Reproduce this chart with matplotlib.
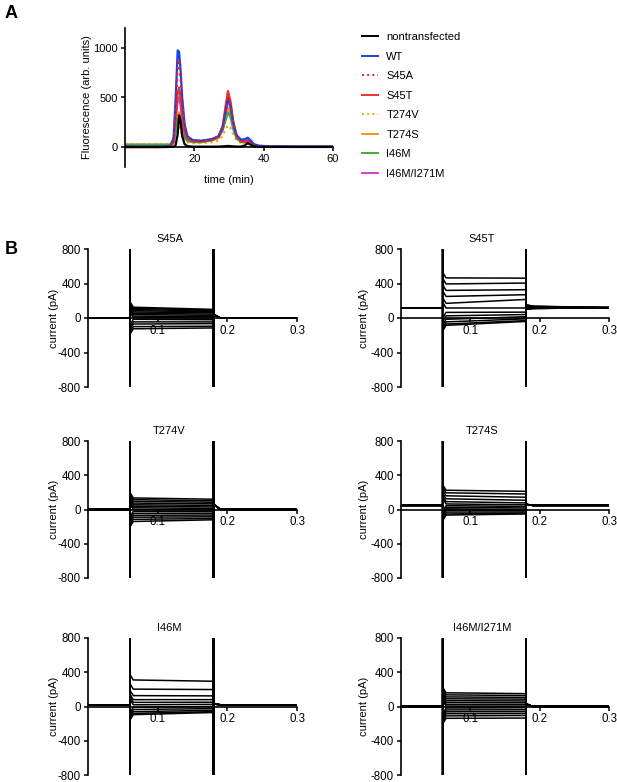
import matplotlib
matplotlib.use("Agg")
import matplotlib.pyplot as plt
from matplotlib.lines import Line2D
import numpy as np

plt.rcParams['font.family'] = ['Liberation Sans', 'DejaVu Sans']
plt.rcParams['axes.unicode_minus'] = False

# ---- panel A: FSEC traces ----
t_min = [0, 10, 13.0, 14.0, 14.6, 15.2, 15.6, 16.0, 16.5, 17.2, 18.0, 19.5, 22, 25, 27,
         28.2, 29.0, 29.7, 30.4, 31.2, 32.2, 33.5, 34.6, 35.4, 36.2, 37.2, 38.5, 42, 50, 60]

nontransfected = [2, 2, 2, 3, 20, 130, 320, 270, 110, 30, 10, 5, 5, 5, 6,
                  8, 10, 12, 10, 8, 6, 6, 18, 40, 25, 6, 3, 2, 2, 2]
wt = [5, 5, 10, 90, 480, 975, 960, 790, 500, 230, 110, 72, 65, 80, 110,
      200, 360, 485, 420, 250, 120, 75, 80, 95, 70, 30, 15, 8, 5, 5]
s45a = [0, 0, 3, 60, 380, 820, 880, 700, 440, 200, 95, 65, 60, 75, 105,
        200, 370, 520, 440, 250, 110, 62, 55, 60, 45, 20, 10, 5, 3, 3]
s45t = [0, 0, 3, 45, 270, 540, 600, 500, 320, 160, 85, 62, 58, 75, 110,
        220, 410, 565, 470, 260, 110, 62, 55, 60, 45, 20, 10, 5, 3, 3]
t274v = [28, 28, 28, 45, 120, 185, 200, 170, 120, 70, 48, 40, 40, 50, 65,
         115, 180, 220, 195, 130, 70, 42, 38, 45, 35, 18, 10, 5, 3, 3]
t274s = [25, 25, 25, 50, 170, 315, 350, 300, 200, 105, 65, 50, 50, 65, 92,
         175, 300, 400, 340, 205, 95, 52, 48, 55, 40, 20, 10, 5, 3, 3]
i46m = [25, 25, 25, 48, 150, 270, 300, 255, 175, 95, 63, 52, 52, 70, 102,
        175, 270, 350, 305, 185, 85, 52, 48, 55, 40, 20, 10, 5, 3, 3]
i46m_i271m = [5, 5, 7, 55, 280, 470, 500, 430, 280, 140, 80, 62, 60, 78, 105,
              195, 345, 470, 405, 235, 110, 64, 62, 75, 55, 25, 12, 6, 4, 4]

fsec_names = ['nontransfected', 'WT', 'S45A', 'S45T', 'T274V', 'T274S', 'I46M', 'I46M/I271M']
fsec_data = [nontransfected, wt, s45a, s45t, t274v, t274s, i46m, i46m_i271m]
fsec_colors = ['black', '#1f3fe0', '#e3221c', '#e8342a', '#f5a623', '#f39318', '#33b233', '#d43cd8']
fsec_styles = ['-', '-', ':', '-', ':', '-', '-', '-']
draw_order = [4, 5, 6, 7, 3, 1, 2, 0]

# ---- panel B: current traces (pA) ----
panel_names = ['S45A', 'S45T', 'T274V', 'T274S', 'I46M', 'I46M/I271M']
holding = [0, 115, 0, 48, 20, 0]
tail_end = [0, 120, 0, 48, 20, 0]
pulse_start = [
    [125, 112, 98, 85, 70, 55, 40, 22, 5, -15, -45, -70, -100, -125],
    [465, 395, 320, 250, 170, 116, 65, 25, -15, -45, -70, -85],
    [135, 115, 95, 75, 55, 38, 20, 0, -22, -45, -68, -90, -115, -140],
    [225, 195, 160, 125, 92, 65, 45, 25, 8, -10, -30, -52, -65],
    [310, 203, 127, 80, 48, 20, -10, -35, -60, -80, -95],
    [160, 136, 112, 90, 68, 47, 25, 5, -18, -40, -62, -85, -110, -138],
]
pulse_end = [
    [100, 92, 82, 72, 60, 45, 30, 15, 0, -20, -45, -65, -95, -115],
    [462, 405, 328, 270, 215, 116, 68, 40, 15, -10, -30, -40],
    [120, 102, 85, 66, 48, 30, 12, -5, -25, -45, -65, -85, -105, -120],
    [212, 181, 143, 108, 77, 55, 35, 18, 0, -15, -30, -45, -52],
    [295, 198, 124, 80, 50, 25, 0, -25, -45, -60, -70],
    [150, 128, 106, 86, 65, 45, 25, 5, -15, -38, -60, -82, -105, -135],
]
tail_start = [
    [40] * 14,
    [155, 150, 145, 140, 135, 125, 118, 112, 106, 102, 100, 100],
    [60] * 14,
    [60] * 13,
    [30] * 11,
    [30] * 14,
]
T_ON, T_OFF, T_END = 0.06, 0.18, 0.3
SPIKE = 1500

W, H = 617, 782
fig = plt.figure(figsize=(W / 100, H / 100), dpi=100)


def box(x0, y0, x1, y1):
    return [x0 / W, 1 - y1 / H, (x1 - x0) / W, (y1 - y0) / H]


# ---------------- A ----------------
axA = fig.add_axes(box(125, 28, 333, 167))
for i in draw_order:
    axA.plot(t_min, fsec_data[i], color=fsec_colors[i], ls=fsec_styles[i], lw=1.6,
             solid_joinstyle='round')
axA.set_xlim(0, 60)
axA.set_ylim(-200, 1200)
axA.spines['top'].set_visible(False)
axA.spines['right'].set_visible(False)
axA.spines['bottom'].set_position(('data', 0))
for s in ['left', 'bottom']:
    axA.spines[s].set_linewidth(1.2)
axA.set_xticks([20, 40, 60])
axA.set_yticks([0, 500, 1000])
axA.tick_params(labelsize=8, width=1.1, length=3, pad=2)
axA.set_ylabel('Fluorescence (arb. units)', fontsize=8)
axA.yaxis.set_label_coords(-0.16, 0.5)
axA.set_xlabel('time (min)', fontsize=8)
axA.xaxis.set_label_coords(0.5, -0.06)

handles = [Line2D([], [], color=fsec_colors[i], ls=fsec_styles[i], lw=1.4) for i in range(8)]
fig.legend(handles, fsec_names, loc='upper left', bbox_to_anchor=(362 / W, 1 - 32 / H),
           frameon=False, fontsize=8, handlelength=1.4, handletextpad=0.8,
           labelspacing=0.86, borderaxespad=0, borderpad=0)

fig.text(5 / W, 1 - 13 / H, 'A', fontsize=13, fontweight='bold', va='center')
fig.text(5 / W, 1 - 250 / H, 'B', fontsize=13, fontweight='bold', va='center')

# ---------------- B ----------------
cols = [(88, 297), (401, 609)]
rows = [(249, 387), (441, 578), (638, 775)]
label_x = [-0.139, -0.154]
for k, name in enumerate(panel_names):
    r, c = divmod(k, 2)
    ax = fig.add_axes(box(cols[c][0], rows[r][0], cols[c][1], rows[r][1]))
    base = holding[k]
    for s0, s1, ts in zip(pulse_start[k], pulse_end[k], tail_start[k]):
        up = 1 if s0 >= base else -1
        tt = [0, T_ON, T_ON, T_ON + 0.0005, T_ON + 0.005, T_OFF,
              T_OFF, T_OFF + 0.0005, T_OFF + 0.01, T_END]
        yy = [base, base, up * SPIKE, s0 + up * 60, s0, s1,
              -up * SPIKE, ts, (ts + tail_end[k]) / 2 if k == 1 else tail_end[k], tail_end[k]]
        ax.plot(tt, yy, color='black', lw=1.1)
    ax.set_xlim(0, 0.3)
    ax.set_ylim(-800, 800)
    ax.spines['top'].set_visible(False)
    ax.spines['right'].set_visible(False)
    ax.spines['bottom'].set_position(('data', 0))
    for s in ['left', 'bottom']:
        ax.spines[s].set_linewidth(1.2)
    ax.set_xticks([0.1, 0.2, 0.3])
    ax.set_xticklabels(['0.1', '0.2', '0.3'])
    ax.set_yticks([-800, -400, 0, 400, 800])
    ax.tick_params(labelsize=8.3, width=1.1, length=3, pad=2)
    ax.set_ylabel('current (pA)', fontsize=8)
    ax.yaxis.set_label_coords(label_x[c], 0.5)
    ax.set_title(name, fontsize=8, x=0.39, pad=5)

fig.savefig('out.png', dpi=100)
